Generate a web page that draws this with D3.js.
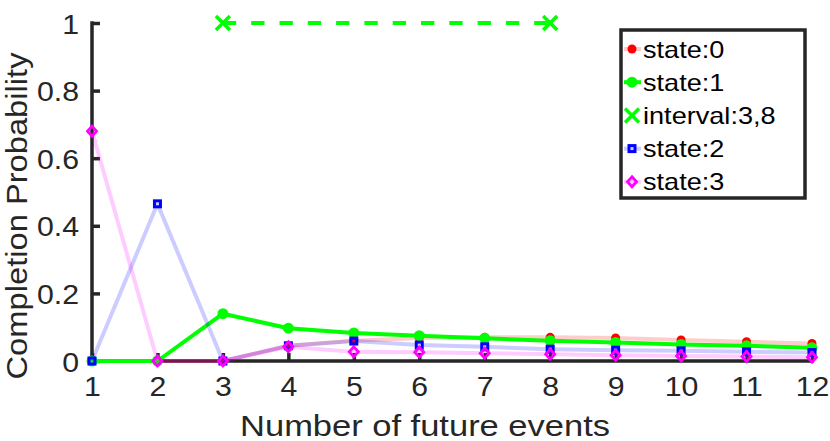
<!DOCTYPE html>
<html><head><meta charset="utf-8">
<script src="https://cdn.jsdelivr.net/npm/d3@7"></script>
<style>body{margin:0;background:#fff}svg{display:block}text{font-family:"Liberation Sans",Arial,sans-serif;fill:#262626}</style>
</head><body><svg id="c" width="830" height="441"></svg>
<script>
const events = [1,2,3,4,5,6,7,8,9,10,11,12];
const state0 = [0,0,0,0.045,0.06,0.068,0.07,0.07,0.068,0.062,0.057,0.052];
const state1 = [0,0,0.14,0.097,0.083,0.075,0.067,0.06,0.055,0.049,0.045,0.039];
const state2 = [0,0.465,0,0.045,0.059,0.047,0.042,0.035,0.032,0.03,0.027,0.025];
const state3 = [0.68,0,0,0.042,0.027,0.026,0.023,0.02,0.017,0.015,0.013,0.011];
const intervalX = [3,8];
const intervalY = [1,1];
const yTicks = [0,0.2,0.4,0.6,0.8,1];
const yTickLabels = ["0","0.2","0.4","0.6","0.8","1"];
const legendLabels = ["state:0","state:1","interval:3,8","state:2","state:3"];

const svg = d3.select("#c");
const x = d3.scaleLinear().domain([1,12]).range([92,812]);
const y = d3.scaleLinear().domain([0,1]).range([361,23]);
const AX = "#262626";

function stretch(sel, sx){
  sel.each(function(){
    const t=d3.select(this);
    const tx=+t.attr("x")||0, ty=+t.attr("y")||0;
    const prev=t.attr("transform")||"";
    t.attr("x",0).attr("y",0).attr("transform",prev+` translate(${tx},${ty}) scale(${sx},1)`);
  });
}

// axes
const gy = svg.append("g").attr("transform",`translate(${x(1)},0)`)
  .call(d3.axisLeft(y).tickValues(yTicks).tickFormat((d,i)=>yTickLabels[i]).tickSize(-8).tickSizeOuter(0).tickPadding(13));
const gx = svg.append("g").attr("transform",`translate(0,${y(0)})`)
  .call(d3.axisBottom(x).tickValues(events).tickFormat(d3.format("d")).tickSize(-8).tickSizeOuter(0).tickPadding(15));
[gy,gx].forEach(g=>{
  g.select(".domain").remove();
  g.selectAll(".tick line").style("stroke",AX).style("stroke-width","3.5px");
  g.selectAll(".tick text").attr("fill",AX).style("font-size","28px").style("font-family","'Liberation Sans',Arial,sans-serif");
});
// explicit axis lines
svg.append("path").attr("d",`M${x(1)},${y(1)}V${y(0)}H${x(12)}`)
  .attr("fill","none").attr("stroke",AX).attr("stroke-width",3.5).attr("stroke-linecap","square");
gy.selectAll(".tick text").attr("dy","0.36em");
stretch(gx.selectAll(".tick text"),1.08);
gy.selectAll(".tick text").each(function(){
  const t=d3.select(this); const tx=+t.attr("x");
  t.attr("x",0).attr("transform",`translate(${tx},${t.attr("y")||0}) scale(1.08,1)`).attr("y",0);
});

// labels
svg.append("text").attr("x",425).attr("y",436).attr("text-anchor","middle")
  .style("font-size","30px").text("Number of future events").call(s=>stretch(s,1.15));
svg.append("text").attr("text-anchor","middle")
  .style("font-size","30px").text("Completion Probability")
  .attr("transform","translate(27,216) rotate(-90) scale(1.09,1)");

const line = d3.line().x((d,i)=>x(events[i])).y(d=>y(d));

function markers(g, data, type, color){
  data.forEach((v,i)=>drawMarker(g, x(events[i]), y(v), type, color));
}
function drawMarker(g, cx, cy, type, color){
  if(type==="circleS") g.append("circle").attr("cx",cx).attr("cy",cy).attr("r",4.5).attr("fill",color);
  else if(type==="circleL") g.append("circle").attr("cx",cx).attr("cy",cy).attr("r",5.5).attr("fill",color);
  else if(type==="square") g.append("rect").attr("x",cx-3).attr("y",cy-3).attr("width",6).attr("height",6)
      .attr("fill","none").attr("stroke",color).attr("stroke-width",3);
  else if(type==="diamond") g.append("path").attr("d",`M${cx},${cy-5}L${cx+4.5},${cy}L${cx},${cy+5}L${cx-4.5},${cy}Z`)
      .attr("fill","none").attr("stroke",color).attr("stroke-width",2.8);
  else if(type==="x") g.append("path").attr("d",`M${cx-7},${cy-7}L${cx+7},${cy+7}M${cx-7},${cy+7}L${cx+7},${cy-7}`)
      .attr("stroke",color).attr("stroke-width",3.5).attr("fill","none");
}

const series = [
  {data:state0, color:"#ff0000", op:0.2, m:"circleS"},
  {data:state1, color:"#00ff00", op:1, m:"circleL"},
  {interval:true, color:"#00ff00"},
  {data:state2, color:"#0000ff", op:0.2, m:"square"},
  {data:state3, color:"#ff00ff", op:0.2, m:"diamond"}
];
series.forEach(s=>{
  const g = svg.append("g");
  if(s.interval){
    g.append("path").attr("d",d3.line().x(d=>x(d[0])).y(d=>y(d[1]))(intervalX.map((v,i)=>[v,intervalY[i]])))
      .attr("stroke",s.color).attr("stroke-width",4).attr("stroke-dasharray","13.3,15").attr("fill","none");
    intervalX.forEach((v,i)=>drawMarker(g,x(v),y(intervalY[i]),"x",s.color));
  } else {
    g.append("path").attr("d",line(s.data)).attr("fill","none").attr("stroke",s.color)
      .attr("stroke-opacity",s.op).attr("stroke-width",4).attr("stroke-linejoin","round");
    markers(g, s.data, s.m, s.color);
  }
});

// legend
const lg = svg.append("g");
lg.append("rect").attr("x",621).attr("y",30).attr("width",184).attr("height",168)
  .attr("fill","#fff").attr("stroke",AX).attr("stroke-width",3.5);
series.forEach((s,i)=>{
  const cy = 49 + i*33.2;
  if(!s.interval){
    lg.append("line").attr("x1",624).attr("x2",641).attr("y1",cy).attr("y2",cy)
      .attr("stroke",s.color).attr("stroke-opacity",s.op).attr("stroke-width",4);
    drawMarker(lg,632,cy,s.m,s.color);
  } else {
    drawMarker(lg,632,cy,"x",s.color);
  }
  lg.append("text").attr("x",643).attr("y",cy).attr("dy","0.36em").style("font-size","24px")
    .style("fill","#000").text(legendLabels[i]).call(t=>stretch(t,1.13));
});
</script></body></html>
